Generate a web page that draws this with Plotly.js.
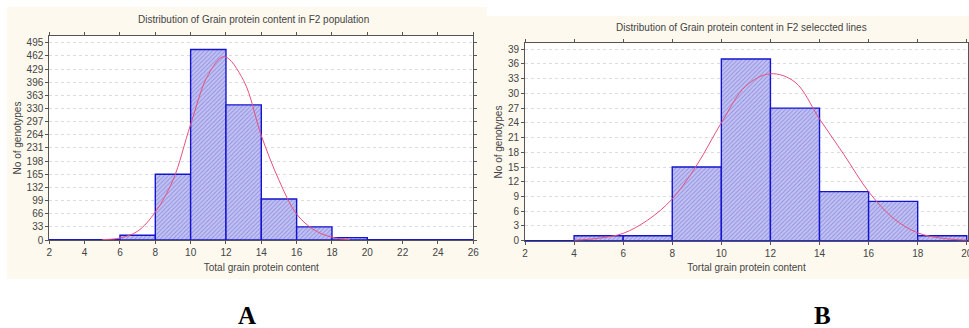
<!DOCTYPE html>
<html>
<head>
<meta charset="utf-8">
<script src="https://cdn.plot.ly/plotly-3.0.1.min.js"></script>
<style>
  html, body { margin: 0; padding: 0; background: #ffffff; }
  #wrap { position: relative; width: 969px; height: 328px; overflow: hidden; }
  .panel { position: absolute; background: #fdf9ee; }
  #chart { position: absolute; left: 0; top: 0; width: 969px; height: 328px; }
</style>
</head>
<body>
<div id="wrap">
  <div class="panel" style="left:7px; top:7px; width:480px; height:272px;"></div>
  <div class="panel" style="left:487px; top:16px; width:482px; height:263px;"></div>
  <div id="chart"></div>
</div>
<script>
// ---- Panel A: F2 population ----
var binCentersA = [3, 5, 7, 9, 11, 13, 15, 17, 19, 21, 23, 25];
var countsA     = [0, 0, 12, 165, 478, 339, 103, 33, 6, 0, 0, 0];
var curveXA = [5, 6, 7, 8, 9, 10, 11, 11.9, 13, 14, 15, 16, 17, 18, 19];
var curveYA = [1, 5, 22, 70, 150, 290, 415, 460, 400, 262, 150, 65, 25, 7, 1];
var yTicksA = [0, 33, 66, 99, 132, 165, 198, 231, 264, 297, 330, 363, 396, 429, 462, 495];
var xTicksA = [2, 4, 6, 8, 10, 12, 14, 16, 18, 20, 22, 24, 26];

// ---- Panel B: F2 selected lines ----
var binCentersB = [3, 5, 7, 9, 11, 13, 15, 17, 19];
var countsB     = [0, 1, 1, 15, 37, 27, 10, 8, 1];
var curveXB = [4, 5, 6, 7, 8, 9, 10, 11, 12, 13, 14, 15, 16, 17, 18, 19, 20];
var curveYB = [0.1, 0.5, 1.5, 4.2, 8.5, 15.4, 24, 31.5, 34, 32.3, 24.8, 17.5, 10, 4.6, 1.6, 0.5, 0.1];
var yTicksB = [0, 3, 6, 9, 12, 15, 18, 21, 24, 27, 30, 33, 36, 39];
var xTicksB = [2, 4, 6, 8, 10, 12, 14, 16, 18, 20];

var titleA = 'Distribution of Grain protein content in F2 population';
var titleB = 'Distribution of Grain protein content in F2 seleccted lines';
var xTitleA = 'Total grain protein content';
var xTitleB = 'Tortal grain protein content';
var yTitle = 'No of genotypes';

var W = 969, H = 328;
function px(x) { return x / W; }
function py(y) { return 1 - y / H; }

var narrow = 'Liberation Sans Narrow, Arial Narrow, Liberation Sans, Arial, sans-serif';
var txtColor = '#444';

var barStyle = {
  color: '#c2c2f2',
  line: { color: '#1414d0', width: 1.4 },
  pattern: { shape: '/', fgcolor: '#5a5ad0', size: 3, solidity: 0.3, fillmode: 'overlay' }
};
var curveStyle = { color: '#e8507a', width: 1, shape: 'spline', smoothing: 1 };

var traces = [
  { type: 'bar', x: binCentersA, y: countsA, width: 2, marker: barStyle, xaxis: 'x', yaxis: 'y', hoverinfo: 'x+y' },
  { type: 'scatter', mode: 'lines', x: curveXA, y: curveYA, line: curveStyle, xaxis: 'x', yaxis: 'y' },
  { type: 'bar', x: binCentersB, y: countsB, width: 2, marker: barStyle, xaxis: 'x2', yaxis: 'y2', hoverinfo: 'x+y' },
  { type: 'scatter', mode: 'lines', x: curveXB, y: curveYB, line: curveStyle, xaxis: 'x2', yaxis: 'y2' }
];

function xAxis(domain, range, ticks, title, anchor) {
  return {
    domain: domain, range: range, anchor: anchor,
    tickmode: 'array', tickvals: ticks, ticktext: ticks.map(String),
    ticks: 'outside', ticklen: 3, tickcolor: '#555', tickwidth: 1,
    ticklabeloverflow: 'allow',
    showline: true, linecolor: '#555', linewidth: 1, mirror: 'ticks',
    showgrid: false, zeroline: false, automargin: false,
    tickfont: { family: narrow, size: 10, color: txtColor },
    title: { text: title, standoff: 6, font: { family: narrow, size: 10, color: txtColor } }
  };
}
function yAxis(domain, range, ticks, anchor) {
  return {
    domain: domain, range: range, anchor: anchor,
    tickmode: 'array', tickvals: ticks, ticktext: ticks.map(String),
    ticks: 'outside', ticklen: 3, tickcolor: '#555', tickwidth: 1,
    showline: true, linecolor: '#555', linewidth: 1, mirror: 'ticks',
    showgrid: true, gridcolor: '#dcdcdc', griddash: 'dot', gridwidth: 1,
    zeroline: true, zerolinecolor: '#2a2ac0', zerolinewidth: 2, automargin: false,
    tickfont: { family: narrow, size: 10, color: txtColor },
    title: { text: yTitle, standoff: 3, font: { family: narrow, size: 10, color: txtColor } }
  };
}

var layout = {
  width: W, height: H,
  margin: { l: 0, r: 0, t: 0, b: 0 },
  paper_bgcolor: 'rgba(0,0,0,0)',
  plot_bgcolor: '#ffffff',
  showlegend: false,
  bargap: 0,
  xaxis: xAxis([px(49.3), px(473.3)], [2, 26], xTicksA, xTitleA, 'y'),
  yaxis: yAxis([py(240), py(36)], [0, 511.8], yTicksA, 'x'),
  xaxis2: xAxis([px(525), px(968)], [2, 20.05], xTicksB, xTitleB, 'y2'),
  yaxis2: yAxis([py(240.7), py(43.3)], [0, 40.2], yTicksB, 'x2'),
  annotations: [
    { xref: 'paper', yref: 'paper', x: px(253), y: py(19), text: titleA, showarrow: false,
      xanchor: 'center', yanchor: 'middle', font: { family: narrow, size: 10, color: txtColor } },
    { xref: 'paper', yref: 'paper', x: px(741), y: py(28), text: titleB, showarrow: false,
      xanchor: 'center', yanchor: 'middle', font: { family: narrow, size: 10, color: txtColor } },
    { xref: 'paper', yref: 'paper', x: px(247), y: py(315), text: '<b>A</b>', showarrow: false,
      xanchor: 'center', yanchor: 'middle', font: { family: 'Liberation Serif, Times New Roman, serif', size: 25, color: '#000' } },
    { xref: 'paper', yref: 'paper', x: px(822), y: py(315), text: '<b>B</b>', showarrow: false,
      xanchor: 'center', yanchor: 'middle', font: { family: 'Liberation Serif, Times New Roman, serif', size: 25, color: '#000' } }
  ]
};

Plotly.newPlot('chart', traces, layout, { displayModeBar: false, staticPlot: true });
</script>
</body>
</html>
